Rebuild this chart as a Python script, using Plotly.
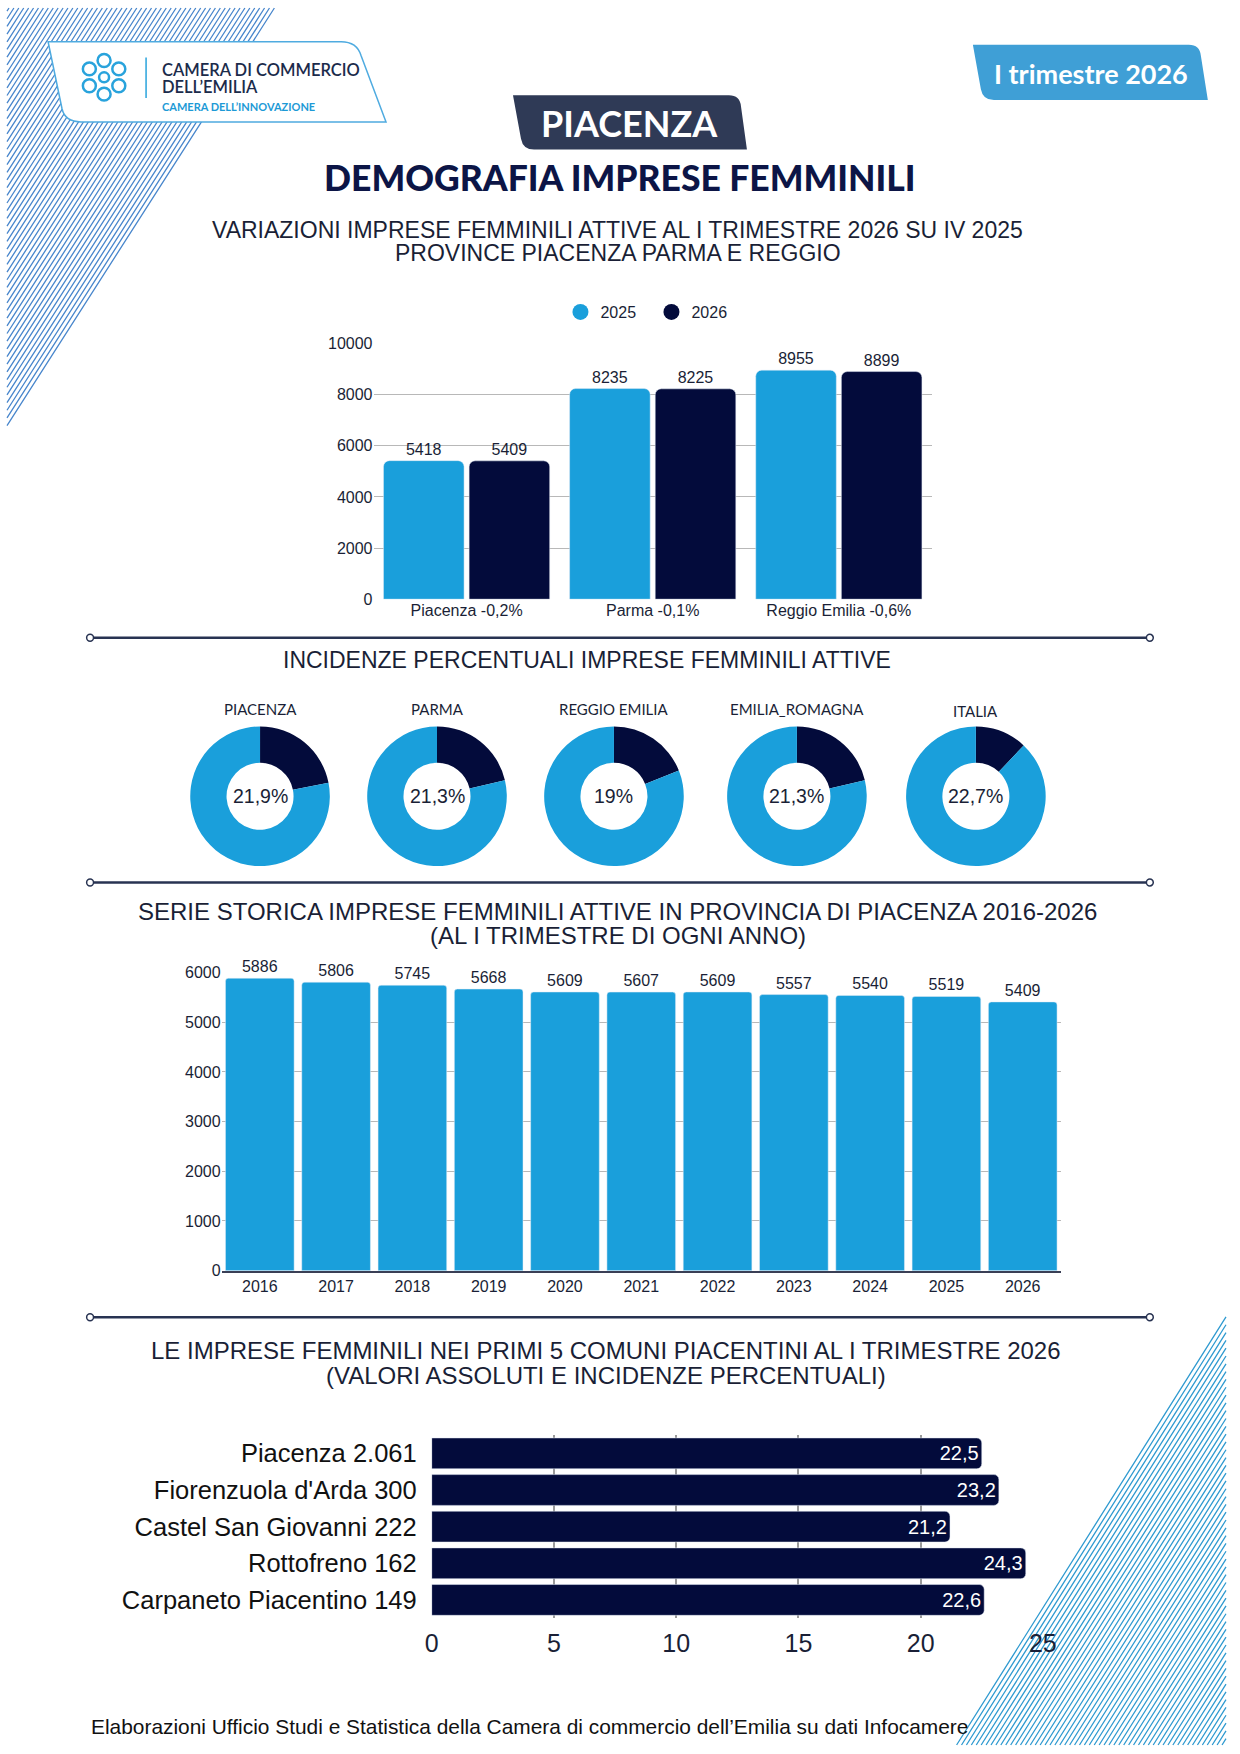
import math
import plotly.graph_objects as go

W, H = 1240, 1754

# ---------------- DATA ----------------
prov_categories = ["Piacenza -0,2%", "Parma -0,1%", "Reggio Emilia -0,6%"]
series_names = ["2025", "2026"]
prov_2025 = [5418, 8235, 8955]
prov_2026 = [5409, 8225, 8899]

donut_titles = ["PIACENZA", "PARMA", "REGGIO EMILIA", "EMILIA_ROMAGNA", "ITALIA"]
donut_labels = ["21,9%", "21,3%", "19%", "21,3%", "22,7%"]
donut_dark_share = [21.9, 21.3, 19.0, 21.3, 12.0]

years = ["2016", "2017", "2018", "2019", "2020", "2021", "2022", "2023", "2024", "2025", "2026"]
year_values = [5886, 5806, 5745, 5668, 5609, 5607, 5609, 5557, 5540, 5519, 5409]

comuni = ["Piacenza 2.061", "Fiorenzuola d'Arda 300", "Castel San Giovanni 222",
          "Rottofreno 162", "Carpaneto Piacentino 149"]
comuni_pct = [22.5, 23.2, 21.2, 24.3, 22.6]

# ---------------- STYLE ----------------
BLUE = "#1a9fdb"
NAVY = "#030b3b"
TXT = "#1a1f36"
GRID = "#b8b8b8"
SANS = "Liberation Sans, Arial, sans-serif"
LATO = "Lato, sans-serif"


def X(x):
    # layout x position (px) -> paper fraction, slight horizontal stretch
    return (1.017 * x - 6) / W


def XS(x):
    return x / W


def Y(y):
    return 1 - y / H


def path(*segs, fx=X):
    out = []
    for s in segs:
        cmd, vals = s[0], s[1:]
        if cmd == "Z":
            out.append("Z")
            continue
        pts = [f"{fx(vals[i]):.5f},{Y(vals[i + 1]):.5f}" for i in range(0, len(vals), 2)]
        out.append(cmd + " " + " ".join(pts))
    return " ".join(out)


def ann(text, x, y, size, color=TXT, family=SANS, weight="normal", xanchor="center"):
    return dict(text=text, x=X(x), y=Y(y), xref="paper", yref="paper", showarrow=False,
                xanchor=xanchor, yanchor="middle",
                font=dict(size=size, color=color, family=family, weight=weight))


fig = go.Figure()

# ---------------- CHART 1: grouped bars ----------------
fig.add_trace(go.Bar(x=prov_categories, y=prov_2025, name=series_names[0],
                     marker=dict(color=BLUE, cornerradius=6), width=0.433, offset=-0.4465,
                     text=[str(v) for v in prov_2025], textposition="outside",
                     textfont=dict(size=16, color=TXT, family=SANS), cliponaxis=False,
                     showlegend=False, hoverinfo="skip", xaxis="x", yaxis="y"))
fig.add_trace(go.Bar(x=prov_categories, y=prov_2026, name=series_names[1],
                     marker=dict(color=NAVY, cornerradius=6), width=0.433, offset=0.0135,
                     text=[str(v) for v in prov_2026], textposition="outside",
                     textfont=dict(size=16, color=TXT, family=SANS), cliponaxis=False,
                     showlegend=False, hoverinfo="skip", xaxis="x", yaxis="y"))
for nm, col in zip(series_names, [BLUE, NAVY]):
    fig.add_trace(go.Scatter(x=[None], y=[None], mode="markers", name=nm,
                             marker=dict(symbol="circle", size=17, color=col),
                             xaxis="x", yaxis="y", hoverinfo="skip"))

# ---------------- DONUTS ----------------
donut_cx = [259, 436, 613, 796, 975]
donut_cy, donut_r = 796, 71
for i, cx in enumerate(donut_cx):
    v = donut_dark_share[i]
    fig.add_trace(go.Pie(values=[v, 100 - v], marker=dict(colors=[NAVY, BLUE], line=dict(width=0)),
                         hole=0.48, sort=False, direction="clockwise", rotation=0,
                         textinfo="none", hoverinfo="skip", showlegend=False,
                         domain=dict(x=[X(cx) - donut_r / W, X(cx) + donut_r / W],
                                     y=[Y(donut_cy + donut_r), Y(donut_cy - donut_r)])))

# ---------------- CHART 3: time series bars ----------------
fig.add_trace(go.Bar(x=years, y=year_values, marker=dict(color=BLUE, cornerradius=3), width=0.9,
                     text=[str(v) for v in year_values], textposition="outside",
                     textfont=dict(size=16, color=TXT, family=SANS), cliponaxis=False,
                     showlegend=False, hoverinfo="skip", xaxis="x2", yaxis="y2"))

# ---------------- CHART 4: horizontal bars ----------------
fig.add_trace(go.Bar(y=comuni, x=comuni_pct, orientation="h", marker=dict(color=NAVY, cornerradius=5),
                     width=0.84, text=[f"{v:.1f}".replace(".", ",") for v in comuni_pct],
                     textposition="inside", insidetextanchor="end",
                     textfont=dict(size=20, color="white", family=SANS),
                     showlegend=False, hoverinfo="skip", xaxis="x3", yaxis="y3"))

# ---------------- SHAPES ----------------
shapes = []

# top-left stripes
segs = []
c = 2.0
while c < 274:
    segs.append(("M", c, 0))
    segs.append(("L", 0, c / 0.645))
    c += 5.0
shapes.append(dict(type="path", xref="paper", yref="paper", path=path(*segs, fx=XS),
                   line=dict(color="#4886cc", width=1.3), layer="below"))

# bottom-right stripes
segs = []
c = 2078.0
while c < 2352:
    segs.append(("M", 1240, (c - 1240) / 0.634))
    segs.append(("L", c - 0.634 * 1754, 1754))
    c += 5.0
shapes.append(dict(type="path", xref="paper", yref="paper", path=path(*segs, fx=XS),
                   line=dict(color="#2f9ad0", width=1.3), layer="below"))

# logo box
dy = -8
shapes.append(dict(type="path", xref="paper", yref="paper", layer="below",
                   path=path(("M", 47, 42 + dy), ("L", 340, 42 + dy), ("Q", 356, 42 + dy, 360, 56 + dy),
                             ("L", 385, 123 + dy), ("L", 80, 123 + dy), ("Q", 64, 123 + dy, 61, 110 + dy),
                             ("L", 47, 42 + dy), ("Z",)),
                   fillcolor="white", line=dict(color="#4fabe0", width=1.5)))
# logo icon
icx, icy = 103, 78 + dy
for k in range(6):
    a = math.radians(90 + 60 * k)
    cx, cy = icx + 17 * math.cos(a), icy - 17 * math.sin(a)
    shapes.append(dict(type="circle", xref="paper", yref="paper",
                       x0=X(cx - 6.5), x1=X(cx + 6.5), y0=Y(cy + 6.5), y1=Y(cy - 6.5),
                       line=dict(color="#29a3dc", width=2.5)))
shapes.append(dict(type="circle", xref="paper", yref="paper",
                   x0=X(icx - 5), x1=X(icx + 5), y0=Y(icy + 5), y1=Y(icy - 5),
                   line=dict(color="#29a3dc", width=2.5)))
# logo divider
shapes.append(dict(type="line", xref="paper", yref="paper", x0=X(145), x1=X(145),
                   y0=Y(58 + dy), y1=Y(99 + dy), line=dict(color="#29a3dc", width=1.5)))

# PIACENZA badge
by = -9
shapes.append(dict(type="path", xref="paper", yref="paper",
                   path=path(("M", 512, 97 + by), ("L", 728, 97 + by), ("Q", 739, 97 + by, 740, 108 + by),
                             ("L", 746, 152 + by), ("L", 533, 152 + by), ("Q", 522, 152 + by, 520, 141 + by),
                             ("L", 512, 97 + by), ("Z",)),
                   fillcolor="#2f3a56", line=dict(width=0)))
# I trimestre badge
ty = -8
shapes.append(dict(type="path", xref="paper", yref="paper",
                   path=path(("M", 972, 45 + ty), ("L", 1188, 45 + ty), ("Q", 1199, 45 + ty, 1200, 56 + ty),
                             ("L", 1207, 101 + ty), ("L", 993, 101 + ty), ("Q", 982, 101 + ty, 980, 90 + ty),
                             ("L", 972, 45 + ty), ("Z",)),
                   fillcolor="#3f9fd6", line=dict(width=0)))

# separators
for sy in [636, 883, 1322]:
    shapes.append(dict(type="line", xref="paper", yref="paper", x0=X(89), x1=X(1149), y0=Y(sy), y1=Y(sy),
                       line=dict(color="#283352", width=2.5)))
    for ex in [89, 1149]:
        shapes.append(dict(type="circle", xref="paper", yref="paper",
                           x0=X(ex) - 3.5 / W, x1=X(ex) + 3.5 / W, y0=Y(sy + 3.5), y1=Y(sy - 3.5),
                           fillcolor="white", line=dict(color="#283352", width=1.5)))

# ---------------- ANNOTATIONS ----------------
anns = []
anns.append(ann("CAMERA DI COMMERCIO", 159, 71 + dy, 16.5, color="#1b2b4b", family=LATO, weight=600,
                xanchor="left"))
anns.append(ann("DELL’EMILIA", 159, 88 + dy, 16.5, color="#1b2b4b", family=LATO, weight=600, xanchor="left"))
anns.append(ann("CAMERA DELL’INNOVAZIONE", 159, 107 + dy, 11, color="#1d9ad6", family=LATO, weight=700,
                xanchor="left"))
anns.append(ann("PIACENZA", 629, 125 + by, 36, color="white", family=LATO, weight=700))
anns.append(ann("I trimestre 2026", 1090, 74 + ty, 27, color="white", family=LATO, weight=700))
anns.append(ann("DEMOGRAFIA IMPRESE FEMMINILI", 619, 171, 35.5, color="#0c1546", family=LATO, weight=900))

anns.append(ann("VARIAZIONI IMPRESE FEMMINILI ATTIVE AL I TRIMESTRE 2026 SU IV 2025", 617, 224, 23))
anns.append(ann("PROVINCE PIACENZA PARMA E REGGIO", 617, 247, 23))
anns.append(ann("INCIDENZE PERCENTUALI IMPRESE FEMMINILI ATTIVE", 586, 658, 23))
anns.append(ann("SERIE STORICA IMPRESE FEMMINILI ATTIVE IN PROVINCIA DI PIACENZA 2016-2026", 617, 912.5, 24))
anns.append(ann("(AL I TRIMESTRE DI OGNI ANNO)", 617, 937, 24))
anns.append(ann("LE IMPRESE FEMMINILI NEI PRIMI 5 COMUNI PIACENTINI AL I TRIMESTRE 2026", 605, 1356, 24))
anns.append(ann("(VALORI ASSOLUTI E INCIDENZE PERCENTUALI)", 605, 1380.5, 24))

for i, cx in enumerate(donut_cx):
    anns.append(ann(donut_titles[i], cx, 708 if i < 4 else 710, 15, family=LATO))
    anns.append(ann(donut_labels[i], cx, donut_cy, 19.5))

anns.append(ann("Elaborazioni Ufficio Studi e Statistica della Camera di commercio dell’Emilia su dati Infocamere",
                87.5, 1735, 20.9, color="#111111", xanchor="left"))

# ---------------- LAYOUT ----------------
fig.update_layout(
    width=W, height=H, margin=dict(l=0, r=0, t=0, b=0),
    paper_bgcolor="white", plot_bgcolor="rgba(0,0,0,0)",
    font=dict(family=SANS, color=TXT),
    barmode="group",
    shapes=shapes, annotations=anns,
    legend=dict(orientation="h", x=XS(563), xanchor="left", y=Y(307), yanchor="middle",
                entrywidth=46, entrywidthmode="pixels",
                font=dict(size=16, color=TXT, family=SANS), bgcolor="rgba(0,0,0,0)"),
    xaxis=dict(domain=[X(372.5), X(931)], anchor="y", type="category", showgrid=False, showline=False,
               ticks="", tickfont=dict(size=16, color=TXT), fixedrange=True),
    yaxis=dict(domain=[Y(597), Y(338.7)], anchor="x", range=[0, 10000], dtick=2000, tickformat="d",
               gridcolor=GRID, gridwidth=1, zeroline=False, showline=False,
               tickfont=dict(size=16, color=TXT), fixedrange=True),
    xaxis2=dict(domain=[X(220.6), X(1060)], anchor="y2", type="category", showgrid=False, showline=True,
                linecolor="#3a3f55", linewidth=1.5, ticks="", tickfont=dict(size=16, color=TXT)),
    yaxis2=dict(domain=[Y(1275), Y(974)], anchor="x2", range=[0, 6000], dtick=1000, tickformat="d",
                gridcolor=GRID, gridwidth=1, zeroline=False, showline=False,
                tickfont=dict(size=16, color=TXT)),
    xaxis3=dict(domain=[X(430.7), X(1042)], anchor="y3", range=[0, 25], dtick=5, gridcolor="#9a9a9a",
                gridwidth=1.5, zeroline=False, showline=False, ticks="", ticklabelstandoff=8,
                tickfont=dict(size=25, color=TXT)),
    yaxis3=dict(domain=[Y(1626), Y(1441)], anchor="x3", type="category", autorange="reversed",
                showgrid=False, ticks="", ticklabelstandoff=14, tickfont=dict(size=25.5, color="#111111")),
)

post = ("document.documentElement.style.margin='0';document.documentElement.style.padding='0';"
        "document.body.style.margin='0';document.body.style.padding='0';"
        "document.body.style.overflow='hidden';"
        "var gd=document.getElementById('{plot_id}');gd.style.position='absolute';"
        "gd.style.left='0px';gd.style.top='0px';")
fig.write_html("out.html", post_script=post, config={"displayModeBar": False})
